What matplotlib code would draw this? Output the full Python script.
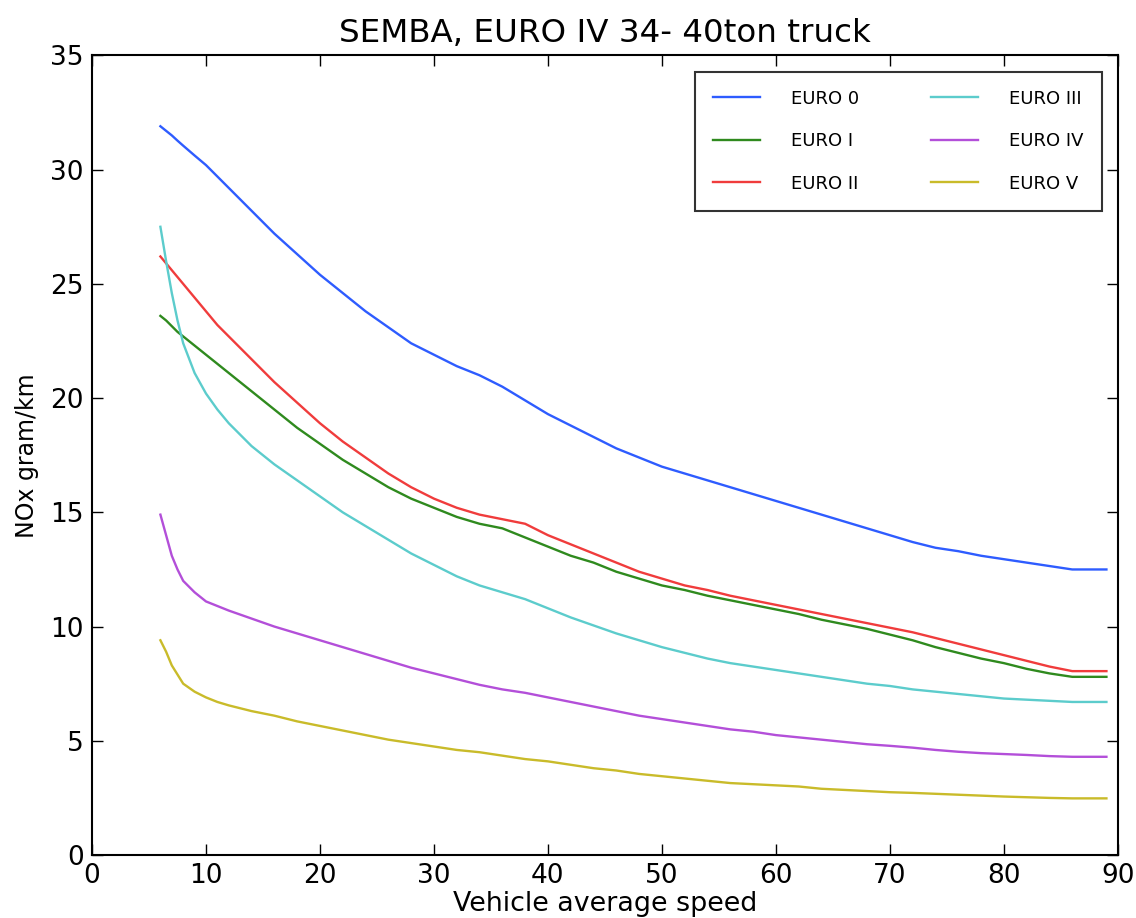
import numpy as np
import matplotlib
matplotlib.use('Agg')
import matplotlib.pyplot as plt

# vehicle average speed (km/h)
speed = [6, 6.5, 7, 7.5, 8, 9, 10, 11, 12, 14, 16, 18, 20, 22, 24, 26, 28, 30,
         32, 34, 36, 38, 40, 42, 44, 46, 48, 50, 52, 54, 56, 58, 60, 62, 64, 66,
         68, 70, 72, 74, 76, 78, 80, 82, 84, 86, 89]

# NOx gram/km
euro0 = [31.9, 31.7, 31.5, 31.27, 31.05, 30.62, 30.2, 29.7, 29.2, 28.2, 27.2, 26.3,
         25.4, 24.6, 23.8, 23.1, 22.4, 21.9, 21.4, 21.0, 20.5, 19.9, 19.3, 18.8,
         18.3, 17.8, 17.4, 17.0, 16.7, 16.4, 16.1, 15.8, 15.5, 15.2, 14.9, 14.6,
         14.3, 14.0, 13.7, 13.45, 13.3, 13.1, 12.95, 12.8, 12.65, 12.5, 12.5]
euro1 = [23.6, 23.4, 23.15, 22.9, 22.7, 22.3, 21.9, 21.5, 21.1, 20.3, 19.5, 18.7,
         18.0, 17.3, 16.7, 16.1, 15.6, 15.2, 14.8, 14.5, 14.3, 13.9, 13.5, 13.1,
         12.8, 12.4, 12.1, 11.8, 11.6, 11.35, 11.15, 10.95, 10.75, 10.55, 10.3,
         10.1, 9.9, 9.65, 9.4, 9.1, 8.85, 8.6, 8.4, 8.15, 7.95, 7.8, 7.8]
euro2 = [26.2, 25.9, 25.6, 25.3, 25.0, 24.4, 23.8, 23.2, 22.7, 21.7, 20.7, 19.8,
         18.9, 18.1, 17.4, 16.7, 16.1, 15.6, 15.2, 14.9, 14.7, 14.5, 14.0, 13.6,
         13.2, 12.8, 12.4, 12.1, 11.8, 11.6, 11.35, 11.15, 10.95, 10.75, 10.55,
         10.35, 10.15, 9.95, 9.75, 9.5, 9.25, 9.0, 8.75, 8.5, 8.25, 8.05, 8.05]
euro3 = [27.5, 26.0, 24.6, 23.4, 22.4, 21.1, 20.2, 19.5, 18.9, 17.9, 17.1, 16.4,
         15.7, 15.0, 14.4, 13.8, 13.2, 12.7, 12.2, 11.8, 11.5, 11.2, 10.8, 10.4,
         10.05, 9.7, 9.4, 9.1, 8.85, 8.6, 8.4, 8.25, 8.1, 7.95, 7.8, 7.65, 7.5,
         7.4, 7.25, 7.15, 7.05, 6.95, 6.85, 6.8, 6.75, 6.7, 6.7]
euro4 = [14.9, 14.0, 13.1, 12.5, 12.0, 11.5, 11.1, 10.9, 10.7, 10.35, 10.0, 9.7,
         9.4, 9.1, 8.8, 8.5, 8.2, 7.95, 7.7, 7.45, 7.25, 7.1, 6.9, 6.7, 6.5, 6.3,
         6.1, 5.95, 5.8, 5.65, 5.5, 5.4, 5.25, 5.15, 5.05, 4.95, 4.85, 4.78, 4.7,
         4.6, 4.52, 4.46, 4.42, 4.38, 4.33, 4.3, 4.3]
euro5 = [9.4, 8.9, 8.3, 7.9, 7.5, 7.15, 6.9, 6.7, 6.55, 6.3, 6.1, 5.85, 5.65,
         5.45, 5.25, 5.05, 4.9, 4.75, 4.6, 4.5, 4.35, 4.2, 4.1, 3.95, 3.8, 3.7,
         3.55, 3.45, 3.35, 3.25, 3.15, 3.1, 3.05, 3.0, 2.9, 2.85, 2.8, 2.75, 2.72,
         2.68, 2.64, 2.6, 2.56, 2.53, 2.5, 2.48, 2.48]

labels = ['EURO 0', 'EURO I', 'EURO II', 'EURO III', 'EURO IV', 'EURO V']
series = [euro0, euro1, euro2, euro3, euro4, euro5]
line_colors = ['#2e5cff', '#2f8a1e', '#f03c3c', '#5ccccc', '#b34fd9', '#c9bb2a']

fig = plt.figure(figsize=(11.36, 9.18), dpi=100)
ax = fig.add_axes([0.081, 0.0686, 0.903, 0.871])

for vals, lab, col in zip(series, labels, line_colors):
    ax.plot(speed, vals, color=col, lw=1.7, label=lab)

ax.set_xlim(0, 90)
ax.set_ylim(0, 35)
ax.set_xticks(np.arange(0, 91, 10))
ax.set_yticks(np.arange(0, 36, 5))
ax.tick_params(direction='in', top=True, right=True, length=8, width=1,
               labelsize=19, pad=6)
for sp in ax.spines.values():
    sp.set_linewidth(1.5)

ax.set_title('SEMBA, EURO IV 34- 40ton truck', fontsize=23.4, pad=10)
ax.set_xlabel('Vehicle average speed', fontsize=19.4, labelpad=1)
ax.set_ylabel('NOx gram/km', fontsize=17, labelpad=8)

leg = ax.legend(loc='upper right', ncol=2, fontsize=13, frameon=True,
                fancybox=False, handlelength=2.6, handletextpad=1.7,
                labelspacing=1.35, columnspacing=4.0, borderpad=1.0,
                borderaxespad=0.9)
leg.get_frame().set_edgecolor('black')
leg.get_frame().set_linewidth(1.5)

plt.savefig('out.png', dpi=100)
